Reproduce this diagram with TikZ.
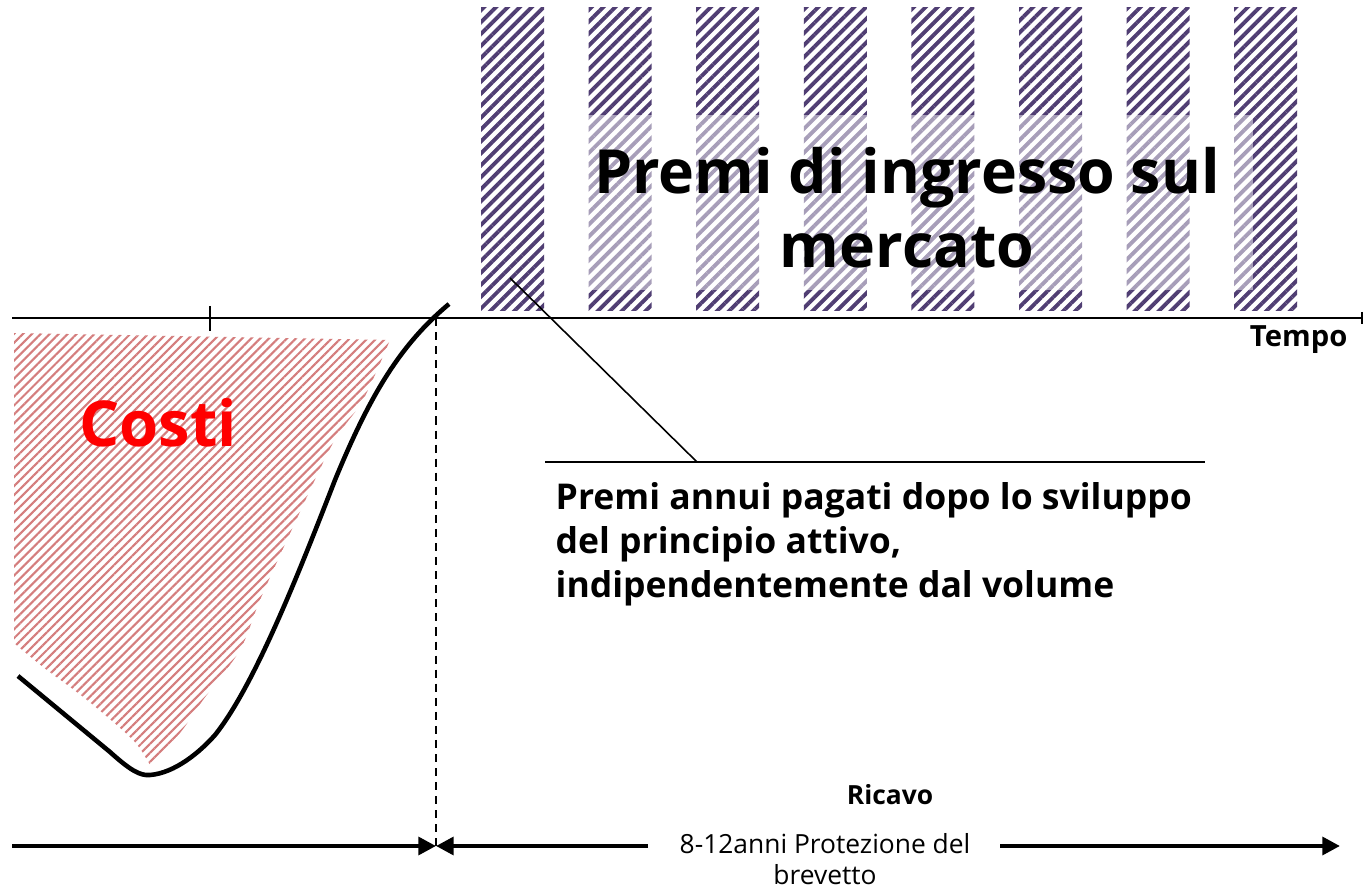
\documentclass[tikz,border=0pt]{standalone}
\usepackage{fontspec}
\setmainfont{Open Sans}
\usetikzlibrary{patterns.meta,arrows.meta}
\definecolor{viola}{RGB}{80,62,115}
\definecolor{rosa}{RGB}{212,125,125}
\tikzset{
    bar/.style={pattern={Lines[angle=45,distance=2.4pt,line width=1.1pt]},pattern color=viola},
    costo/.style={pattern={Lines[angle=45,distance=1.8pt,line width=0.6pt]},pattern color=rosa},
    freccia/.style={line width=1.2pt,-{Triangle[length=5pt,width=5pt]}},
}
\begin{document}
\begin{tikzpicture}[x=0.01cm,y=-0.01cm]
    \useasboundingbox (0,0) rectangle (1363,885);
    % bars of the premiums
    \foreach \i in {0,...,7} {
        \fill[bar] (481+107.6*\i,8) rectangle +(63,303);
    }
    \fill[white,opacity=0.5] (588,115) rectangle (1253,290);
    % cost area
    \fill[costo] (14,333) -- plot[smooth,tension=0.5] coordinates {(390,340) (363,400) (333,443) (293,527) (260,600) (240,650) (203,700) (180,733) (150,765)}
        -- plot[smooth,tension=0.5] coordinates {(150,765) (133,740) (87,700) (43,667) (14,643)} -- cycle;
    \draw[line width=0.6pt] (12,318) -- (1362,318); %Axis
    \draw[line width=0.6pt] (1362,312) -- (1362,324);
    \draw[line width=0.6pt] (210,306) -- (210,331);
    \draw[line width=0.6pt,dash pattern=on 2.3pt off 1.7pt] (436,318) -- (436,846);
    \draw[line width=1.3pt] (18,676) -- (110,752) .. controls (130,770) and (140,776) .. (150,775)
        .. controls (175,773) and (200,752) .. (215,735) .. controls (255,685) and (300,570) .. (335,480)
        .. controls (370,395) and (400,345) .. (449,304);
    \node[text=red,font=\fontsize{18}{22}\selectfont\bfseries] (costi) at (158,423) {Costi};
    \node[font=\fontsize{17.3}{21}\selectfont\bfseries,align=center] (premi) at (907,208) {Premi di ingresso sul\\mercato};
    \node[font=\fontsize{8.3}{10}\selectfont\bfseries,anchor=east,inner sep=0pt] (tempo) at (1348,340) {Tempo};
    % leader
    \coordinate (barra) at (510,278);
    \coordinate (piega) at (697,462);
    \coordinate (lineaA) at (545,462);
    \coordinate (lineaB) at (1205,462);
    \draw[line width=0.45pt] (barra) -- (piega);
    \draw[line width=0.45pt] (lineaA) -- (lineaB);
    \node[font=\fontsize{10.1}{12.5}\selectfont\bfseries,align=left,anchor=north west,inner sep=0pt] (annui) at (555,482)
        {Premi annui pagati dopo lo sviluppo\\del principio attivo,\\indipendentemente dal volume};
    % bottom
    \node[font=\fontsize{7.5}{9}\selectfont\bfseries] (ricavo) at (890,795) {Ricavo};
    \node[font=\fontsize{7.5}{8.6}\selectfont,align=center] (prot) at (825,859) {8-12anni Protezione del\\brevetto};
    \coordinate (inizio) at (12,846);
    \coordinate (brev) at (436,846);
    \coordinate (sx) at (648,846);
    \coordinate (dx) at (1000,846);
    \coordinate (fine) at (1340,846);
    \draw[freccia] (inizio) -- (brev);
    \draw[freccia] (sx) -- (brev);
    \draw[freccia] (dx) -- (fine);
\end{tikzpicture}
\end{document}
